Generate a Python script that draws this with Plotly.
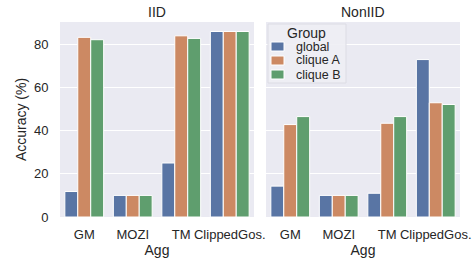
import plotly.graph_objects as go
from plotly.subplots import make_subplots

categories = ["GM", "MOZI", "TM", "ClippedGos."]
groups = ["global", "clique A", "clique B"]
colors = ["#5975A4", "#CC8963", "#5F9E6E"]

iid_global = [11.8, 10.0, 25.0, 85.9]
iid_clique_a = [83.2, 10.0, 83.9, 85.9]
iid_clique_b = [82.1, 10.0, 82.7, 85.9]

noniid_global = [14.3, 10.0, 11.0, 72.9]
noniid_clique_a = [42.8, 10.0, 43.4, 52.9]
noniid_clique_b = [46.5, 10.0, 46.5, 52.1]

panels = ["IID", "NonIID"]
yticks = [0, 20, 40, 60, 80]

data = {
    "IID": [iid_global, iid_clique_a, iid_clique_b],
    "NonIID": [noniid_global, noniid_clique_a, noniid_clique_b],
}

font_family = "Liberation Sans, Arial, sans-serif"
text_color = "#262626"

W, H = 473, 262
ML, MR, MT, MB = 60, 13, 22, 45
PW, PH = W - ML - MR, H - MT - MB


def px_x(px):
    return (px - ML) / PW


def px_y(py):
    return (H - MB - py) / PH


fig = make_subplots(rows=1, cols=2, shared_yaxes=True, horizontal_spacing=0.03,
                    subplot_titles=panels)

for c, panel in enumerate(panels, start=1):
    for g, name in enumerate(groups):
        fig.add_trace(go.Bar(
            x=categories, y=data[panel][g], name=name,
            marker=dict(color=colors[g], line=dict(color="white", width=1)),
            showlegend=False, legendgroup=name,
        ), row=1, col=c)

fig.update_layout(
    width=W, height=H,
    margin=dict(l=ML, r=MR, t=MT, b=MB, autoexpand=False),
    paper_bgcolor="white", plot_bgcolor="#EAEAF2",
    barmode="group", bargap=0.2, bargroupgap=0.0,
    font=dict(family=font_family, size=13, color=text_color),
    showlegend=False,
)

fig.update_xaxes(showgrid=False, zeroline=False, showline=False, tickangle=0,
                 ticks="outside", ticklen=5, tickcolor="rgba(0,0,0,0)",
                 tickfont=dict(size=13), automargin=False,
                 title=dict(text="Agg", font=dict(size=14), standoff=0))
fig.update_yaxes(range=[0, 90.3], tickvals=yticks, showgrid=True,
                 gridcolor="white", gridwidth=1, zeroline=False, showline=False,
                 ticks="outside", ticklen=8, tickcolor="rgba(0,0,0,0)",
                 tickfont=dict(size=13), automargin=False)
fig.update_yaxes(title=dict(text="Accuracy (%)", font=dict(size=14), standoff=4),
                 row=1, col=1)

for ann in fig.layout.annotations:
    ann.font = dict(size=14, family=font_family, color=text_color)

# Legend (drawn manually to match seaborn's compact spacing)
fig.add_shape(type="rect", xref="paper", yref="paper",
              x0=px_x(268), x1=px_x(346), y0=px_y(83), y1=px_y(24),
              fillcolor="rgba(238,238,244,0.9)", line=dict(color="rgba(220,220,228,1)", width=1),
              layer="above")
fig.add_annotation(text="Group", xref="paper", yref="paper", x=px_x(306), y=px_y(33),
                   showarrow=False, xanchor="center", yanchor="middle",
                   font=dict(size=14, family=font_family, color=text_color))
for i, name in enumerate(groups):
    cy = 46.5 + i * 14
    fig.add_shape(type="rect", xref="paper", yref="paper",
                  x0=px_x(271), x1=px_x(284), y0=px_y(cy + 4.5), y1=px_y(cy - 4.5),
                  fillcolor=colors[i], line=dict(color="white", width=1), layer="above")
    fig.add_annotation(text=name, xref="paper", yref="paper", x=px_x(294), y=px_y(cy),
                       showarrow=False, xanchor="left", yanchor="middle",
                       font=dict(size=12.5, family=font_family, color=text_color))

fig.write_html("out.html", config={"displayModeBar": False},
               post_script="document.body.style.margin='0';document.body.style.padding='0';")
